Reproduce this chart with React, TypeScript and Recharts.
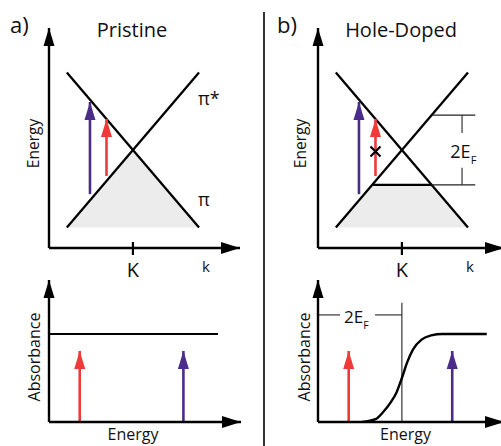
import { Area, ComposedChart, Label, Line, ReferenceDot, ReferenceLine, XAxis, YAxis } from "recharts";

const FONT = "'Open Sans', 'Noto Sans', sans-serif";
const PURPLE = "#4b2c88";
const RED = "#f03a3a";
const SHADE = "#ececec";

// band diagram: k measured from K, energy from the Dirac point
const kDomain = [-1.27, 1.62];
const kDomainDoped = [-1.27, 1.545];
const energyDomain = [-1.265, 1.575];
const bandK = [-1, 1];
const risingBand = [-1, 1];
const fallingBand = [1, -1];
const valenceK = [-1, 0, 1];
const valenceE = [-1, 0, -1];
const fermiLevel = -0.45;
const dopedValenceK = [-1, -0.45, 0.45, 1];
const dopedValenceE = [-1, -0.45, -0.45, -1];
const transitionK = [-0.65, -0.4];
const transitionFrom = [-0.57, -0.335];
const transitionTo = [0.62, 0.4];
const transitionColors = [PURPLE, RED];
const blockedK = -0.4;
const blockedE = -0.02;

// absorbance spectra
const photonEnergy = [1.6, 7.0];
const photonColors = [RED, PURPLE];
const photonHeight = 0.5;
const flatAbsorbance = 0.62;
const spectrumEnd = 8.8;
const edgeEnergy = [2.3, 3.0, 3.4, 3.8, 4.1, 4.375, 4.65, 4.95, 5.4, 5.9, 6.5, 8.8];
const edgeAbsorbance = [0, 0.02, 0.07, 0.14, 0.21, 0.31, 0.42, 0.51, 0.58, 0.61, 0.62, 0.62];
const twoEF = 4.375;
const twoEFLevel = 0.754;

const axisLine = { stroke: "#000", strokeWidth: 2.4 };
const thin = { stroke: "#222", strokeWidth: 1.1 };

const zip = (xs: number[], ys: number[], xk: string, yk: string) => xs.map((x, i) => ({ [xk]: x, [yk]: ys[i] }));

function upHead(color: string, w: number, h: number) {
  return (p: any) => (
    <path key={p.key ?? `h${p.index}`} d={`M${p.cx},${p.cy} L${p.cx - w / 2},${p.cy + h} L${p.cx + w / 2},${p.cy + h} Z`} fill={color} />
  );
}

function arrowDot(color: string) {
  return (p: any) =>
    p.index === 1 ? upHead(color, 11, 18)(p) : <g key={`d${p.index}`} />;
}

const rightHead = (p: any) => (
  <path d={`M${p.cx},${p.cy} L${p.cx - 19},${p.cy - 6} L${p.cx - 19},${p.cy + 6} Z`} fill="#000" />
);
const axisUpHead = upHead("#000", 11, 18);

function textAt(value: string, size: number, anchor = "start") {
  return (p: any) => (
    <text x={p.cx} y={p.cy} fontSize={size} fontFamily={FONT} fill="#111" textAnchor={anchor}>
      {value}
    </text>
  );
}

function twoEFText(size: number) {
  return (p: any) => (
    <text x={p.cx} y={p.cy} fontSize={size} fontFamily={FONT} fill="#111" textAnchor="middle">
      2E<tspan fontSize={size * 0.62} dy={size * 0.35}>F</tspan>
    </text>
  );
}

function KTick(props: any) {
  const { x, y } = props;
  return (
    <g>
      <line x1={x} x2={x} y1={y - 6} y2={y + 7} stroke="#000" strokeWidth={2.2} />
      <text x={x} y={y + 29} textAnchor="middle" fontSize={20} fontFamily={FONT} fill="#111">
        K
      </text>
    </g>
  );
}

function sideLabel(value: string, size: number, dx: number, dy: number) {
  return (props: any) => {
    const vb = props.viewBox;
    const x = vb.x + vb.width + dx;
    const y = vb.y + vb.height / 2 + dy;
    return (
      <text x={x} y={y} transform={`rotate(-90 ${x} ${y})`} textAnchor="middle" fontSize={size} fontFamily={FONT} fill="#111">
        {value}
      </text>
    );
  };
}

function bottomLabel(value: string, size: number, dx: number, dy: number, anchor = "middle") {
  return (props: any) => {
    const vb = props.viewBox;
    return (
      <text x={vb.x + dx} y={vb.y + dy} textAnchor={anchor} fontSize={size} fontFamily={FONT} fill="#111">
        {value}
      </text>
    );
  };
}

function BandPanel({ doped }: { doped: boolean }) {
  const yw = doped ? 68 : 49;
  const dom = doped ? kDomainDoped : kDomain;
  const width = doped ? 254 : 250;
  const right = doped ? 0 : 10;
  const shade = doped ? zip(dopedValenceK, dopedValenceE, "k", "e") : zip(valenceK, valenceE, "k", "e");
  return (
    <ComposedChart width={width} height={290} margin={{ top: 28, right, bottom: 0, left: 0 }}>
      <XAxis
        type="number"
        dataKey="k"
        domain={dom}
        allowDataOverflow
        ticks={[0]}
        interval={0}
        tickSize={0}
        tickMargin={0}
        tickLine={false}
        tick={(p: any) => <KTick {...p} />}
        axisLine={axisLine}
        height={42}
      >
        <Label content={bottomLabel("k", 15, doped ? 152 : 157, 24)} />
      </XAxis>
      <YAxis type="number" domain={energyDomain} allowDataOverflow tick={false} tickLine={false} axisLine={axisLine} width={yw}>
        <Label content={sideLabel("Energy", 15.5, doped ? -12 : -10.5, 5.5)} />
      </YAxis>
      <Area data={shade} dataKey="e" type="linear" baseValue={-1} fill={SHADE} fillOpacity={1} stroke="none" isAnimationActive={false} />
      <Line data={zip(bandK, risingBand, "k", "e")} dataKey="e" type="linear" stroke="#000" strokeWidth={2.3} dot={false} activeDot={false} isAnimationActive={false} />
      <Line data={zip(bandK, fallingBand, "k", "e")} dataKey="e" type="linear" stroke="#000" strokeWidth={2.3} dot={false} activeDot={false} isAnimationActive={false} />
      {doped && (
        <Line
          data={zip([-0.45, 0.45], [fermiLevel, fermiLevel], "k", "e")}
          dataKey="e"
          type="linear"
          stroke="#000"
          strokeWidth={2.3}
          dot={false}
          activeDot={false}
          isAnimationActive={false}
        />
      )}
      {transitionK.map((k, i) => (
        <Line
          key={`t${i}`}
          data={zip([k, k], [transitionFrom[i], transitionTo[i]], "k", "e")}
          dataKey="e"
          type="linear"
          stroke={transitionColors[i]}
          strokeWidth={2.6}
          dot={arrowDot(transitionColors[i])}
          activeDot={false}
          isAnimationActive={false}
        />
      ))}
      {doped && (
        <ReferenceDot
          x={blockedK}
          y={blockedE}
          ifOverflow="visible"
          shape={(p: any) => (
            <path d={`M${p.cx - 5},${p.cy - 5} L${p.cx + 5},${p.cy + 5} M${p.cx - 5},${p.cy + 5} L${p.cx + 5},${p.cy - 5}`} stroke="#000" strokeWidth={2.2} />
          )}
        />
      )}
      {doped && <ReferenceLine segment={[{ x: 0.47, y: -fermiLevel }, { x: 1.11, y: -fermiLevel }]} {...thin} ifOverflow="visible" />}
      {doped && <ReferenceLine segment={[{ x: 0.45, y: fermiLevel }, { x: 1.11, y: fermiLevel }]} {...thin} ifOverflow="visible" />}
      {doped && <ReferenceLine segment={[{ x: 0.91, y: -fermiLevel }, { x: 0.91, y: 0.22 }]} {...thin} ifOverflow="visible" />}
      {doped && <ReferenceLine segment={[{ x: 0.91, y: -0.23 }, { x: 0.91, y: fermiLevel }]} {...thin} ifOverflow="visible" />}
      {doped && <ReferenceDot x={0.93} y={-0.1} ifOverflow="visible" shape={twoEFText(18)} />}
      {!doped && <ReferenceDot x={0.985} y={0.58} ifOverflow="visible" shape={textAt("π*", 18)} />}
      {!doped && <ReferenceDot x={0.985} y={-0.72} ifOverflow="visible" shape={textAt("π", 18)} />}
      <ReferenceDot x={dom[1]} y={energyDomain[0]} ifOverflow="visible" shape={rightHead} />
      <ReferenceDot x={dom[0]} y={energyDomain[1]} ifOverflow="visible" shape={axisUpHead} />
    </ComposedChart>
  );
}

function AbsorbancePanel({ doped }: { doped: boolean }) {
  const yw = doped ? 68 : 49;
  const xmax = doped ? 9.7 : 10;
  const width = doped ? 254 : 250;
  const right = doped ? 0 : 9;
  const spectrum = doped ? zip(edgeEnergy, edgeAbsorbance, "x", "a") : zip([0, spectrumEnd], [flatAbsorbance, flatAbsorbance], "x", "a");
  return (
    <ComposedChart width={width} height={176} margin={{ top: 10, right, bottom: 0, left: 0 }}>
      <XAxis type="number" dataKey="x" domain={[0, xmax]} allowDataOverflow tick={false} tickLine={false} axisLine={axisLine} height={24}>
        <Label content={bottomLabel("Energy", 16, doped ? 87.5 : 84, 18)} />
      </XAxis>
      <YAxis type="number" domain={[0, 1]} allowDataOverflow tick={false} tickLine={false} axisLine={axisLine} width={yw}>
        <Label content={sideLabel("Absorbance", 16, doped ? -8 : -9, 6)} />
      </YAxis>
      {doped && <ReferenceLine segment={[{ x: twoEF, y: 0 }, { x: twoEF, y: 0.84 }]} {...thin} ifOverflow="visible" />}
      {doped && <ReferenceLine segment={[{ x: 0, y: twoEFLevel }, { x: 1.15, y: twoEFLevel }]} {...thin} ifOverflow="visible" />}
      {doped && <ReferenceLine segment={[{ x: 2.97, y: twoEFLevel }, { x: twoEF, y: twoEFLevel }]} {...thin} ifOverflow="visible" />}
      {doped && <ReferenceDot x={2.0} y={0.7} ifOverflow="visible" shape={twoEFText(17)} />}
      <Line
        data={spectrum}
        dataKey="a"
        type={doped ? "monotone" : "linear"}
        stroke="#000"
        strokeWidth={doped ? 2.4 : 2}
        dot={false}
        activeDot={false}
        isAnimationActive={false}
      />
      {photonEnergy.map((x, i) => (
        <Line
          key={`p${i}`}
          data={zip([x, x], [0, photonHeight], "x", "a")}
          dataKey="a"
          type="linear"
          stroke={photonColors[i]}
          strokeWidth={2.6}
          dot={arrowDot(photonColors[i])}
          activeDot={false}
          isAnimationActive={false}
        />
      ))}
      <ReferenceDot x={xmax} y={0} ifOverflow="visible" shape={rightHead} />
      <ReferenceDot x={0} y={1} ifOverflow="visible" shape={axisUpHead} />
    </ComposedChart>
  );
}

export default function App() {
  return (
    <div style={{ position: "relative", width: 501, height: 446, overflow: "hidden", background: "#fff" }}>
      <style>{"body{margin:0}"}</style>
      <div style={{ position: "absolute", left: 0, top: 0 }}>
        <BandPanel doped={false} />
      </div>
      <div style={{ position: "absolute", left: 250, top: 0 }}>
        <BandPanel doped />
      </div>
      <div style={{ position: "absolute", left: 0, top: 270 }}>
        <AbsorbancePanel doped={false} />
      </div>
      <div style={{ position: "absolute", left: 250, top: 270 }}>
        <AbsorbancePanel doped />
      </div>
      <svg width={501} height={446} style={{ position: "absolute", left: 0, top: 0, pointerEvents: "none" }}>
        <line x1={264} x2={264} y1={12} y2={446} stroke="#000" strokeWidth={1.6} />
        <text x={10} y={33} fontSize={22} fontFamily={FONT} fill="#111">a)</text>
        <text x={132} y={37} fontSize={20} fontFamily={FONT} fill="#111" textAnchor="middle">Pristine</text>
        <text x={277} y={33} fontSize={22} fontFamily={FONT} fill="#111">b)</text>
        <text x={401} y={37} fontSize={20} fontFamily={FONT} fill="#111" textAnchor="middle">Hole-Doped</text>
      </svg>
    </div>
  );
}
